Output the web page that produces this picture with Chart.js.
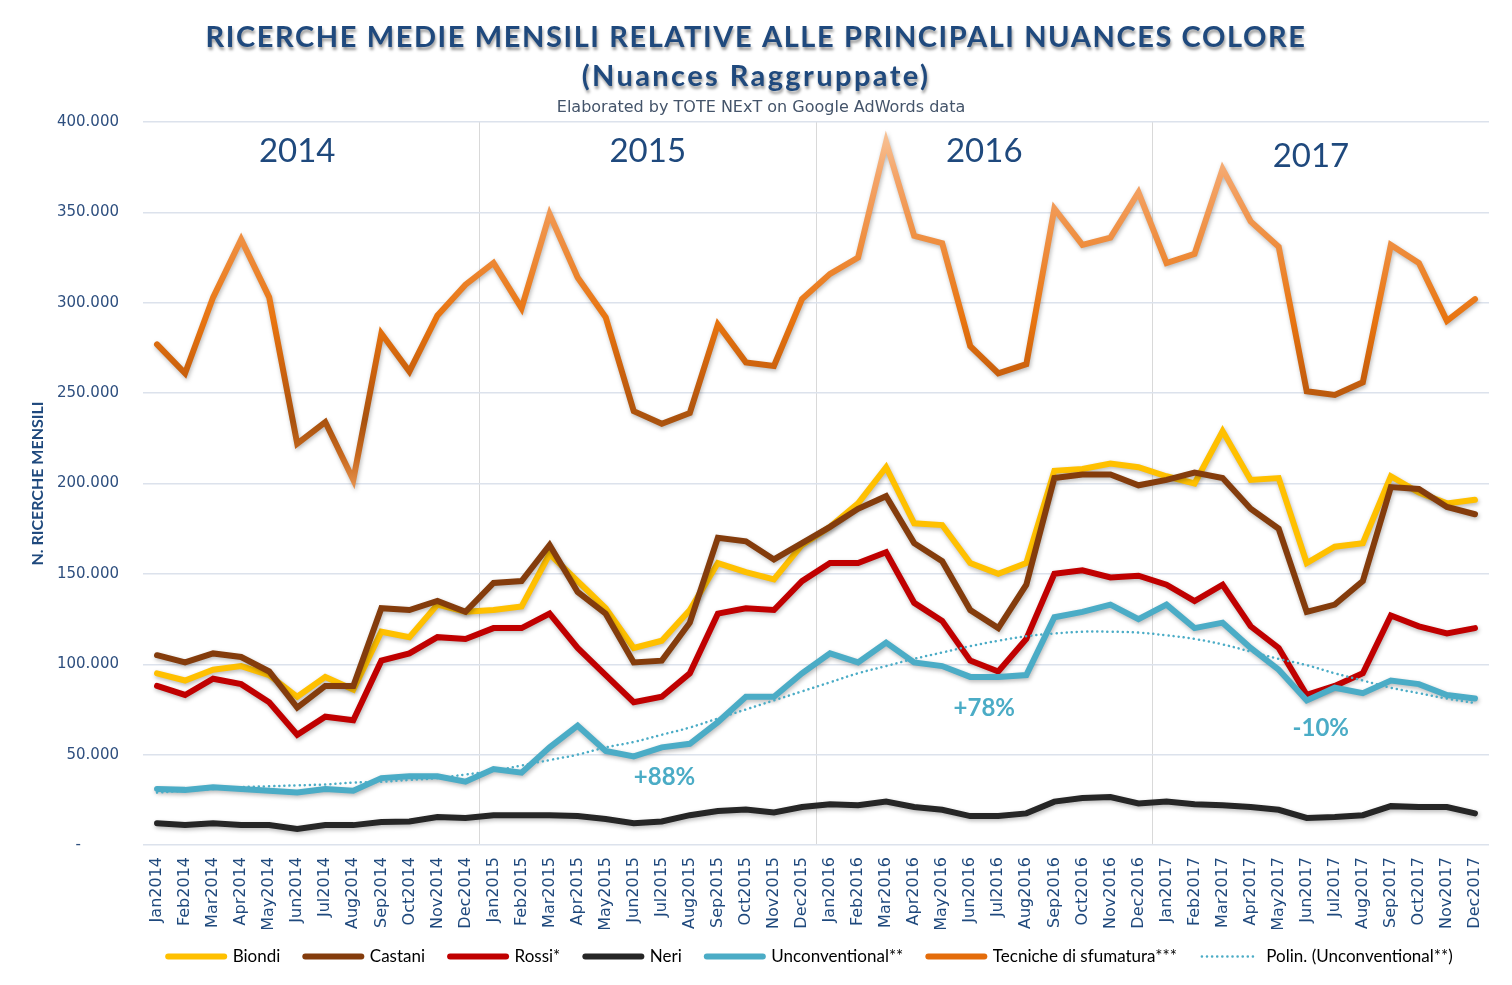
<!DOCTYPE html>
<html>
<head>
<meta charset="utf-8">
<script src="https://cdn.jsdelivr.net/npm/chart.js@4.4.1/dist/chart.umd.min.js"></script>
<style>
  html, body { margin: 0; padding: 0; background: #fff; }
  #wrap { width: 1512px; height: 985px; }
</style>
</head>
<body>
<div id="wrap"><canvas id="c" width="1512" height="985"></canvas></div>
<script>
// ---------- DATA ----------
const months = [
  "Jan2014","Feb2014","Mar2014","Apr2014","May2014","Jun2014","Jul2014","Aug2014","Sep2014","Oct2014","Nov2014","Dec2014",
  "Jan2015","Feb2015","Mar2015","Apr2015","May2015","Jun2015","Jul2015","Aug2015","Sep2015","Oct2015","Nov2015","Dec2015",
  "Jan2016","Feb2016","Mar2016","Apr2016","May2016","Jun2016","Jul2016","Aug2016","Sep2016","Oct2016","Nov2016","Dec2016",
  "Jan2017","Feb2017","Mar2017","Apr2017","May2017","Jun2017","Jul2017","Aug2017","Sep2017","Oct2017","Nov2017","Dec2017"
];

const biondi = [
  95000,91000,97000,99000,94000,82000,93000,86000,118000,115000,133000,129000,
  130000,132000,161000,146000,131000,109000,113000,130000,156000,151000,147000,166000,
  176000,189000,209000,178000,177000,156000,150000,156000,207000,208000,211000,209000,
  204000,200000,229000,202000,203000,156000,165000,167000,204000,195000,189000,191000
];
const castani = [
  105000,101000,106000,104000,96000,76000,88000,88000,131000,130000,135000,129000,
  145000,146000,166000,140000,128000,101000,102000,123000,170000,168000,158000,167000,
  176000,186000,193000,167000,157000,130000,120000,144000,203000,205000,205000,199000,
  202000,206000,203000,186000,175000,129000,133000,146000,198000,197000,187000,183000
];
const rossi = [
  88000,83000,92000,89000,79000,61000,71000,69000,102000,106000,115000,114000,
  120000,120000,128000,109000,94000,79000,82000,95000,128000,131000,130000,146000,
  156000,156000,162000,134000,124000,102000,96000,114000,150000,152000,148000,149000,
  144000,135000,144000,121000,109000,83000,88000,95000,127000,121000,117000,120000
];
const neri = [
  12000,11000,12000,11000,11000,8800,11000,11000,12700,13000,15500,15000,
  16500,16500,16500,16000,14400,12000,13000,16500,18800,19600,18000,21000,
  22600,22000,24000,21000,19500,16000,16000,17500,24000,26000,26500,23000,
  24000,22600,22000,21000,19500,15000,15500,16500,21500,21000,21000,17500
];
const unconventional = [
  31000,30500,32000,31000,30000,29000,31000,30000,37000,38000,38000,35000,
  42000,40000,54000,66000,52000,49000,54000,56000,68000,82000,82000,95000,
  106000,101000,112000,101000,99000,93000,93000,94000,126000,129000,133000,125000,
  133000,120000,123000,109000,97000,80000,87000,84000,91000,89000,83000,81000
];
const tecniche = [
  277000,261000,303000,335000,303000,222000,234000,202000,283000,262000,293000,310000,
  322000,297000,349000,314000,292000,240000,233000,239000,288000,267000,265000,302000,
  316000,325000,389000,337000,333000,276000,261000,266000,352000,332000,336000,361000,
  322000,327000,374000,345000,331000,251000,249000,256000,332000,322000,290000,302000
];
// polynomial trendline of Unconventional
const polinUnconv = [
  29000,30000,31000,32000,32500,33000,33500,34500,35000,36000,37000,39000,
  41000,44000,47000,50000,54000,57000,61000,65000,70000,75000,80000,85000,
  90000,95000,99000,103000,106500,110000,113000,115500,117000,118000,118000,117500,
  116000,114000,111000,107000,103000,99500,95000,91000,87000,84000,81000,78500
];

const seriesNames = ["Biondi","Castani","Rossi*","Neri","Unconventional**","Tecniche di sfumatura***","Polin. (Unconventional**)"];
const seriesColors = ["#FFC000","#843C0C","#C00000","#262626","#4BACC6","#E46C0A","#4BACC6"];

const yTicks = [0,50000,100000,150000,200000,250000,300000,350000,400000];
const yearLabels = ["2014","2015","2016","2017"];
const yearIndex = [5, 17.5, 29.5, 41.15];
const yearValue = [384000, 384000, 384000, 381000];
const pctLabels = ["+88%","+78%","-10%"];
const pctIndex = [18.1, 29.5, 41.5];
const pctValue = [37500, 75500, 64500];

const titleLines = ["RICERCHE MEDIE MENSILI RELATIVE ALLE PRINCIPALI NUANCES COLORE","(Nuances Raggruppate)"];
const subTitle = "Elaborated by TOTE NExT on Google AdWords data";
const yTitle = "N. RICERCHE MENSILI";

// ---------- HELPERS ----------
const BLUE = "#1F497D";
function fmt(v){
  if(v === 0) return "-        ";
  return String(v).replace(/\B(?=(\d{3})+(?!\d))/g, ".");
}

// vertical gradient for the "Tecniche" line
function tecnicheGradient(context){
  const chart = context.chart;
  const area = chart.chartArea;
  if(!area) return "#E46C0A";
  const y = chart.scales.y;
  const top = y.getPixelForValue(400000), bot = y.getPixelForValue(190000);
  const g = chart.ctx.createLinearGradient(0, top, 0, bot);
  const stop = v => (y.getPixelForValue(v) - top) / (bot - top);
  g.addColorStop(0, "#F8C9A0");
  g.addColorStop(stop(370000), "#F4A468");
  g.addColorStop(stop(330000), "#EE8C3C");
  g.addColorStop(stop(290000), "#E8740F");
  g.addColorStop(stop(260000), "#C9600D");
  g.addColorStop(stop(235000), "#A9520E");
  g.addColorStop(stop(215000), "#C8691E");
  g.addColorStop(1, "#F2A362");
  return g;
}

// ---------- PLUGINS ----------
const lineShadow = {
  id: "lineShadow",
  beforeDatasetDraw(chart, args){
    const ctx = chart.ctx;
    ctx.save();
    if(args.index !== 6){
      ctx.shadowColor = "rgba(0,0,0,0.28)";
      ctx.shadowBlur = 4;
      ctx.shadowOffsetX = 1;
      ctx.shadowOffsetY = 2;
    }
  },
  afterDatasetDraw(chart){ chart.ctx.restore(); }
};

const textLayer = {
  id: "textLayer",
  afterLayout(chart){
    // move legend to sit under the plot like the original
    const lg = chart.legend;
    if(lg){ lg.left += 55; lg.right += 55; lg.top -= 6; lg.bottom -= 6; }
  },
  afterDatasetsDraw(chart){
    const ctx = chart.ctx, x = chart.scales.x, y = chart.scales.y;
    ctx.save();
    ctx.textAlign = "center";
    ctx.textBaseline = "middle";
    // year labels
    ctx.fillStyle = BLUE;
    ctx.font = "33px Lato";
    yearLabels.forEach((t, i) => {
      ctx.fillText(t, x.getPixelForValue(yearIndex[i]), y.getPixelForValue(yearValue[i]));
    });
    // percentage notes
    ctx.fillStyle = "#4BACC6";
    ctx.font = "bold 24px Lato";
    pctLabels.forEach((t, i) => {
      ctx.fillText(t, x.getPixelForValue(pctIndex[i]), y.getPixelForValue(pctValue[i]));
    });
    ctx.restore();
  },
  afterDraw(chart){
    const ctx = chart.ctx, cx = chart.width / 2;
    ctx.save();
    ctx.textAlign = "center";
    ctx.textBaseline = "middle";
    ctx.fillStyle = BLUE;
    ctx.shadowColor = "rgba(0,0,0,0.4)";
    ctx.shadowBlur = 3;
    ctx.shadowOffsetX = 1;
    ctx.shadowOffsetY = 3;
    ctx.font = "bold 29px Lato";
    ctx.letterSpacing = "1.6px";
    ctx.fillText(titleLines[0], cx, 38);
    ctx.letterSpacing = "2.4px";
    ctx.fillText(titleLines[1], cx, 77);
    ctx.shadowColor = "transparent";
    ctx.letterSpacing = "0px";
    ctx.fillStyle = "#44546A";
    ctx.font = "16px 'DejaVu Sans'";
    ctx.fillText(subTitle, cx + 5, 108);
    ctx.restore();
  }
};

// ---------- CHART ----------
const seriesData = [biondi, castani, rossi, neri, unconventional, tecniche, polinUnconv];
const datasets = seriesData.map((d, i) => ({
  label: seriesNames[i],
  data: d,
  borderColor: i === 5 ? tecnicheGradient : seriesColors[i],
  backgroundColor: seriesColors[i],
  borderWidth: i === 6 ? 2.5 : 6,
  borderDash: i === 6 ? [0.1, 5] : [],
  borderCapStyle: "round",
  borderJoinStyle: i === 6 ? "round" : "miter",
  pointRadius: 0,
  tension: i === 6 ? 0.4 : 0,
  fill: false,
  order: 6 - i
}));

new Chart(document.getElementById("c"), {
  type: "line",
  data: { labels: months, datasets },
  options: {
    responsive: false,
    animation: false,
    layout: { padding: { top: 122, left: 22, right: 23, bottom: 4 } },
    plugins: {
      title: { display: false },
      tooltip: { enabled: false },
      legend: {
        position: "bottom",
        labels: {
          usePointStyle: true,
          pointStyleWidth: 56,
          padding: 25,
          color: BLUE,
          font: { family: "Lato", size: 17 },
          generateLabels(chart){
            return chart.data.datasets.map((ds, i) => ({
              text: ds.label,
              fillStyle: "rgba(0,0,0,0)",
              strokeStyle: seriesColors[i],
              lineWidth: i === 6 ? 2.5 : 6,
              lineDash: i === 6 ? [0.1, 5] : [],
              lineCap: "round",
              pointStyle: "line",
              hidden: false,
              datasetIndex: i
            }));
          }
        }
      }
    },
    scales: {
      x: {
        offset: true,
        border: { display: false },
        grid: {
          offset: true,
          drawTicks: false,
          lineWidth: 1,
          color: ctx => [12, 24, 36].includes(ctx.index) ? "#D9D9D9" : "rgba(0,0,0,0)"
        },
        ticks: {
          autoSkip: false,
          minRotation: 90,
          maxRotation: 90,
          padding: 12,
          color: BLUE,
          font: { family: "DejaVu Sans", size: 16 }
        },
        afterFit(scale){ scale.height = 84; }
      },
      y: {
        min: 0,
        max: 400000,
        border: { display: false },
        grid: { color: "#DCE2EC", lineWidth: 1.5, drawTicks: false },
        afterBuildTicks(scale){ scale.ticks = yTicks.map(v => ({ value: v })); },
        ticks: {
          padding: 24,
          color: "#2E4F7F",
          font: { family: "DejaVu Sans", size: 15 },
          callback: v => fmt(v)
        },
        title: {
          display: true,
          text: yTitle,
          color: BLUE,
          padding: { top: 6, bottom: 0 },
          font: { family: "Lato", size: 16, weight: "bold" }
        },
        afterFit(scale){ scale.width = 121; }
      }
    }
  },
  plugins: [lineShadow, textLayer]
});
</script>
</body>
</html>
